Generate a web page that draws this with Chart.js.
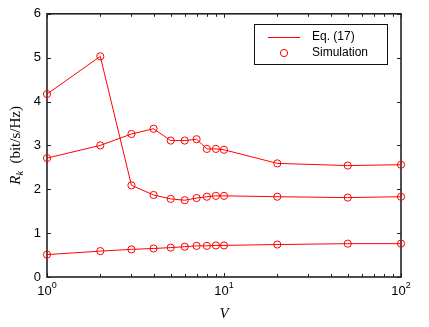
<!DOCTYPE html>
<html>
<head>
<meta charset="utf-8">
<script src="https://cdn.jsdelivr.net/npm/chart.js@4"></script>
<style>
  html, body { margin: 0; padding: 0; background: #fff; }
  #wrap { width: 429px; height: 327px; }
</style>
</head>
<body>
<div id="wrap"><canvas id="grafico" width="429" height="327"></canvas></div>
<script>
// valores
const vValues = [1, 2, 3, 4, 5, 6, 7, 8, 9, 10, 20, 50, 100];
const rateHigh = [4.17, 5.03, 2.09, 1.87, 1.78, 1.75, 1.80, 1.83, 1.85, 1.85, 1.83, 1.81, 1.83];
const rateMid = [2.71, 3.00, 3.26, 3.38, 3.11, 3.11, 3.14, 2.92, 2.92, 2.90, 2.59, 2.54, 2.56];
const rateLow = [0.51, 0.59, 0.63, 0.65, 0.67, 0.69, 0.71, 0.71, 0.72, 0.72, 0.74, 0.76, 0.76];
const yTicks = [0, 1, 2, 3, 4, 5, 6];
const xMajor = [1, 10, 100];
const xMinor = [2, 3, 4, 5, 6, 7, 8, 9, 20, 30, 40, 50, 60, 70, 80, 90];
const legendLabels = ['Eq. (17)', 'Simulation'];

const red = 'rgb(255,0,0)';

function serie(values) {
    return {
        data: vValues.map((v, i) => ({ x: v, y: values[i] })),
        borderColor: red,
        borderWidth: 1,
        backgroundColor: 'rgba(0,0,0,0)',
        pointRadius: 3.6,
        pointBorderWidth: 1,
        pointBorderColor: red,
        pointBackgroundColor: 'rgba(0,0,0,0)',
        tension: 0,
        clip: 10
    };
}

const moldura = {
    id: 'moldura',
    beforeDatasetsDraw(chart) {
        const ctx = chart.ctx;
        const a = chart.chartArea;
        const xs = chart.scales.x;
        const ys = chart.scales.y;
        ctx.save();
        ctx.strokeStyle = '#222';
        ctx.lineWidth = 1.6;
        ctx.strokeRect(a.left, a.top, a.right - a.left, a.bottom - a.top);

        ctx.lineWidth = 1;
        ctx.beginPath();
        // ticks do eixo y (esquerda e direita, para dentro)
        yTicks.forEach(t => {
            const y = Math.round(ys.getPixelForValue(t)) + 0.5;
            ctx.moveTo(a.left, y); ctx.lineTo(a.left + 4, y);
            ctx.moveTo(a.right, y); ctx.lineTo(a.right - 4, y);
        });
        xMajor.forEach(t => {
            const x = Math.round(xs.getPixelForValue(t)) + 0.5;
            ctx.moveTo(x, a.bottom); ctx.lineTo(x, a.bottom - 4);
            ctx.moveTo(x, a.top); ctx.lineTo(x, a.top + 4);
        });
        xMinor.forEach(t => {
            const x = Math.round(xs.getPixelForValue(t)) + 0.5;
            ctx.moveTo(x, a.bottom); ctx.lineTo(x, a.bottom - 3);
            ctx.moveTo(x, a.top); ctx.lineTo(x, a.top + 3);
        });
        ctx.stroke();
        ctx.restore();
    },
    afterDraw(chart) {
        const ctx = chart.ctx;
        const a = chart.chartArea;
        const xs = chart.scales.x;
        ctx.save();

        // rótulos 10^n
        ctx.fillStyle = '#000';
        ctx.textBaseline = 'alphabetic';
        xMajor.forEach((t, i) => {
            const x = xs.getPixelForValue(t);
            ctx.font = '13px "Liberation Sans", Arial, sans-serif';
            const wBase = ctx.measureText('10').width;
            ctx.font = '9px "Liberation Sans", Arial, sans-serif';
            const wExp = ctx.measureText(String(i)).width;
            const x0 = x - (wBase + wExp) / 2;
            ctx.font = '13px "Liberation Sans", Arial, sans-serif';
            ctx.textAlign = 'left';
            ctx.fillText('10', x0, a.bottom + 18);
            ctx.font = '9px "Liberation Sans", Arial, sans-serif';
            ctx.fillText(String(i), x0 + wBase, a.bottom + 11);
        });

        // título do eixo x
        ctx.font = 'italic 15px "Liberation Serif", "Times New Roman", serif';
        ctx.textAlign = 'center';
        ctx.fillText('V', (a.left + a.right) / 2, a.bottom + 41);

        // título do eixo y
        ctx.save();
        ctx.translate(15, (a.top + a.bottom) / 2);
        ctx.rotate(-Math.PI / 2);
        const parte1 = 'R';
        const parte2 = 'k';
        const parte3 = '  (bit/s/Hz)';
        ctx.font = 'italic 15px "Liberation Serif", "Times New Roman", serif';
        const w1 = ctx.measureText(parte1).width;
        ctx.font = 'italic 10px "Liberation Serif", "Times New Roman", serif';
        const w2 = ctx.measureText(parte2).width;
        ctx.font = '15px "Liberation Serif", "Times New Roman", serif';
        const w3 = ctx.measureText(parte3).width;
        let x = -(w1 + w2 + w3) / 2;
        ctx.textAlign = 'left';
        ctx.font = 'italic 15px "Liberation Serif", "Times New Roman", serif';
        ctx.fillText(parte1, x, 5);
        x += w1;
        ctx.font = 'italic 10px "Liberation Serif", "Times New Roman", serif';
        ctx.fillText(parte2, x, 8);
        x += w2;
        ctx.font = '15px "Liberation Serif", "Times New Roman", serif';
        ctx.fillText(parte3, x, 5);
        ctx.restore();

        // legenda
        const lx = 254, ly = 24, lw = 133, lh = 40;
        ctx.fillStyle = '#fff';
        ctx.fillRect(lx, ly, lw, lh);
        ctx.strokeStyle = '#111';
        ctx.lineWidth = 1;
        ctx.strokeRect(lx + 0.5, ly + 0.5, lw, lh);
        ctx.strokeStyle = red;
        ctx.beginPath();
        ctx.moveTo(268, 37.5); ctx.lineTo(300, 37.5);
        ctx.stroke();
        ctx.beginPath();
        ctx.arc(284, 53, 3.6, 0, Math.PI * 2);
        ctx.stroke();
        ctx.fillStyle = '#000';
        ctx.font = '12px "Liberation Sans", Arial, sans-serif';
        ctx.textAlign = 'left';
        ctx.textBaseline = 'middle';
        ctx.fillText(legendLabels[0], 312, 37);
        ctx.fillText(legendLabels[1], 312, 53);
        ctx.restore();
    }
};

const ctx = document.getElementById('grafico').getContext('2d');
const chartInstance = new Chart(ctx, {
    type: 'line',
    data: {
        datasets: [serie(rateHigh), serie(rateMid), serie(rateLow)]
    },
    options: {
        responsive: false,
        animation: false,
        layout: { padding: { top: 11, right: 28, left: 0, bottom: 0 } },
        plugins: {
            legend: { display: false },
            tooltip: { enabled: false }
        },
        scales: {
            x: {
                type: 'logarithmic',
                min: 1,
                max: 100,
                ticks: { display: false },
                grid: { display: false, drawTicks: false },
                border: { display: false },
                afterFit: function(scale) { scale.height = 50; }
            },
            y: {
                type: 'linear',
                min: 0,
                max: 6,
                afterBuildTicks: function(scale) {
                    scale.ticks = yTicks.map(v => ({ value: v }));
                },
                ticks: {
                    color: '#000',
                    padding: 6,
                    font: { family: '"Liberation Sans", Arial, sans-serif', size: 13 }
                },
                grid: { display: false, drawTicks: false },
                border: { display: false },
                afterFit: function(scale) { scale.width = 47; }
            }
        }
    },
    plugins: [moldura]
});
</script>
</body>
</html>
